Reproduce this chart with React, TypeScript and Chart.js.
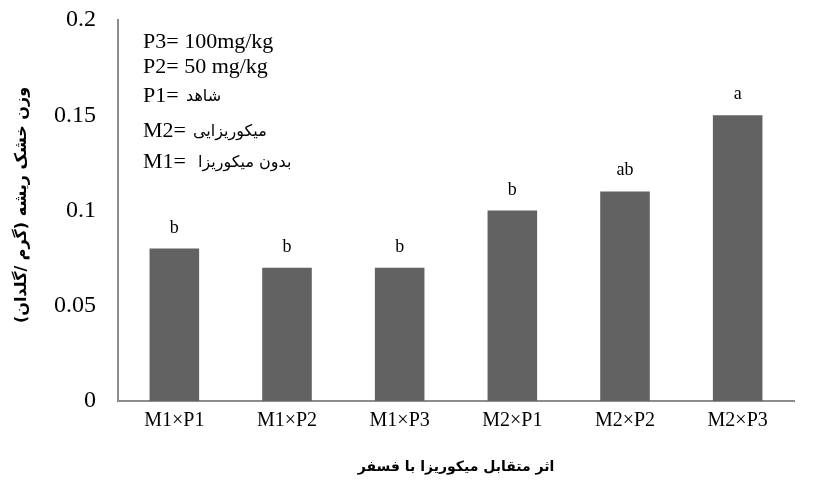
import React, { useEffect, useRef } from "react";
import { Chart, registerables } from "chart.js";

Chart.register(...registerables);

const categories = ["M1×P1", "M1×P2", "M1×P3", "M2×P1", "M2×P2", "M2×P3"];
const values = [0.08, 0.07, 0.07, 0.1, 0.11, 0.15];
const letters = ["b", "b", "b", "b", "ab", "a"];
const yTicks = [0, 0.05, 0.1, 0.15, 0.2];
const yTitle = "وزن خشک ریشه (گرم /گلدان)";
const xTitle = "اثر متقابل میکوریزا با فسفر";
const noteLatin = ["P3= 100mg/kg", "P2= 50 mg/kg", "P1= ", "M2= ", "M1= "];
const notePersian = ["", "", "شاهد", "میکوریزایی", "بدون میکوریزا"];

const SERIF = "'Liberation Serif', 'Times New Roman', serif";
const ARABIC = "'DejaVu Sans', sans-serif";

export default function App() {
  const ref = useRef<HTMLCanvasElement | null>(null);

  useEffect(() => {
    const canvas = ref.current;
    if (!canvas) return;

    const overlay = {
      id: "overlay",
      afterDatasetsDraw(chart: any) {
        const ctx = chart.ctx;
        const meta = chart.getDatasetMeta(0);
        ctx.save();
        ctx.fillStyle = "#000";
        ctx.font = `18px ${SERIF}`;
        ctx.textAlign = "center";
        ctx.textBaseline = "alphabetic";
        meta.data.forEach((bar: any, i: number) => {
          ctx.fillText(letters[i], bar.x, bar.y - 16);
        });
        ctx.restore();
      },
      afterDraw(chart: any) {
        const ctx = chart.ctx;
        const area = chart.chartArea;
        ctx.save();
        ctx.fillStyle = "#000";
        const baselines = [48, 73, 102, 137, 168];
        const persianX = [0, 0, 186, 193, 198];
        noteLatin.forEach((a, i) => {
          ctx.direction = "ltr";
          ctx.textAlign = "left";
          ctx.textBaseline = "alphabetic";
          ctx.font = `22px ${SERIF}`;
          ctx.fillText(a, 143, baselines[i]);
          const b = notePersian[i];
          if (b) {
            ctx.font = `16px ${ARABIC}`;
            ctx.direction = "rtl";
            ctx.textAlign = "left";
            ctx.fillText(b, persianX[i], baselines[i] - 1);
            ctx.direction = "ltr";
          }
        });
        // x title
        ctx.font = `bold 14px ${ARABIC}`;
        ctx.textAlign = "center";
        ctx.textBaseline = "middle";
        ctx.direction = "rtl";
        ctx.fillText(xTitle, (area.left + area.right) / 2, 467);
        // y title
        ctx.translate(22, 205);
        ctx.rotate(-Math.PI / 2);
        ctx.font = `bold 16px ${ARABIC}`;
        ctx.fillText(yTitle, 0, 0);
        ctx.restore();
      },
    };

    const chart = new Chart(canvas, {
      type: "bar",
      data: {
        labels: categories,
        datasets: [
          {
            data: values,
            backgroundColor: "#626262",
            borderWidth: 0,
            barPercentage: 0.44,
            categoryPercentage: 1,
          },
        ],
      },
      options: {
        animation: false,
        responsive: false,
        maintainAspectRatio: false,
        events: [],
        layout: { padding: { left: 8, right: 37, top: 20, bottom: 0 } },
        plugins: {
          legend: { display: false },
          tooltip: { enabled: false },
        },
        scales: {
          x: {
            grid: { display: false, drawTicks: false },
            border: { display: true, color: "#8c8c8c", width: 2 },
            ticks: {
              color: "#000",
              font: { family: SERIF, size: 20 },
              padding: 8,
              maxRotation: 0,
              autoSkip: false,
            },
            afterFit(scale: any) {
              scale.height = 85;
              scale.paddingLeft = 0;
              scale.paddingRight = 0;
            },
          },
          y: {
            min: 0,
            max: 0.2,
            afterBuildTicks(scale: any) {
              scale.ticks = yTicks.map((v) => ({ value: v }));
            },
            grid: { display: false, drawTicks: false },
            border: { display: true, color: "#8c8c8c", width: 2 },
            ticks: {
              color: "#000",
              font: { family: SERIF, size: 24 },
              padding: 22,
              callback: (v: any) => String(Number(v)),
            },
            afterFit(scale: any) {
              scale.width = 110;
              scale.paddingTop = 0;
              scale.paddingBottom = 0;
            },
          },
        },
      },
      plugins: [overlay],
    });

    return () => chart.destroy();
  }, []);

  return (
    <div style={{ position: "fixed", left: 0, top: 0, width: 831, height: 486, background: "#fff" }}>
      <canvas ref={ref} width={831} height={486} style={{ width: 831, height: 486, display: "block" }} />
    </div>
  );
}
